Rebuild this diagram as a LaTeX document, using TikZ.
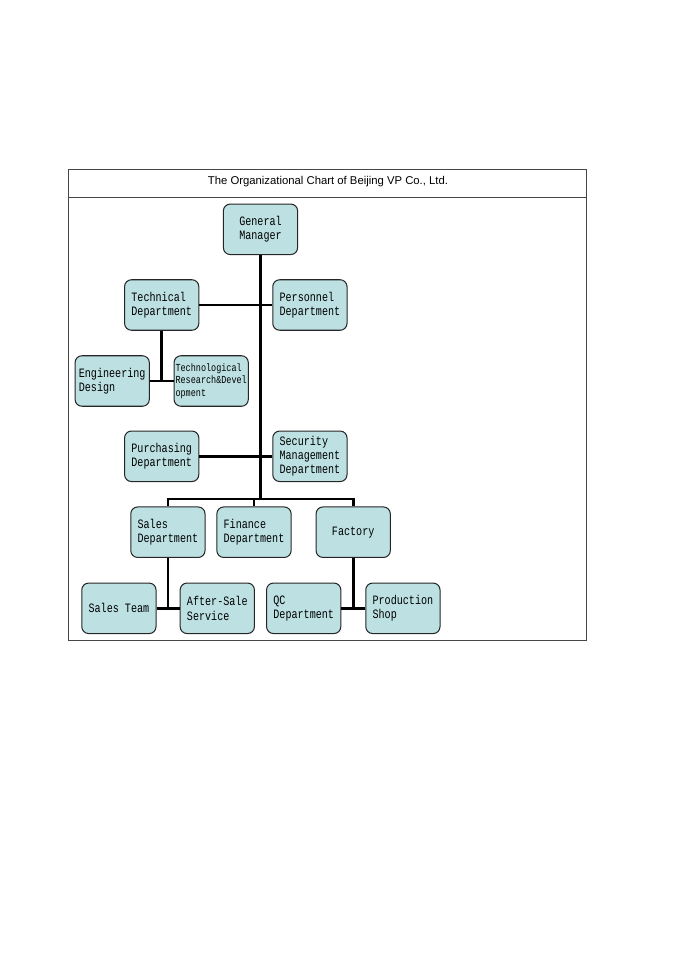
\documentclass[tikz,border=0pt]{standalone}
\usepackage{fontspec}
\setmainfont{Liberation Sans}
\newfontfamily\boxfont[FakeStretch=0.79]{Liberation Mono}
\usepackage{tikz}
\definecolor{myCyan}{RGB}{189,224,226}
\definecolor{myFrame}{RGB}{70,70,70}

\begin{document}
\begin{tikzpicture}[%
	x=0.8754pt, y=-0.8754pt,
	every node/.style={
		font=\boxfont\fontsize{11.2pt}{12.5pt}\selectfont,
		align=left,
		inner sep=1pt,
	},
	dept/.style={
		draw=black!85, line width=0.9pt, fill=myCyan,
		rounded corners=6pt,
		minimum width=65pt, minimum height=44.2pt,
	},
	link/.style={line width=2.3pt, black},
	]
	\useasboundingbox (0,0) rectangle (680,961);
	
	% draw frame and title
	\draw[myFrame, line width=0.8pt] (68.3,169.3) rectangle (586,640);
	\draw[myFrame, line width=0.8pt] (68.3,197.3) -- (586,197.3);
	\node[anchor=base, font=\fontsize{9.9pt}{11pt}\selectfont] (title) at (328,184.5)
		{The Organizational Chart of Beijing VP Co., Ltd.};
	
	% draw boxes
	\node[dept] (gm) at (260.5,229.3) {General\\Manager};
	
	\node[dept] (tech) at (161.7,305) {Technical\\Department};
	\node[dept] (pers) at (309.9,305) {Personnel\\Department};
	
	\node[dept] (eng) at (112.2,381) {Engineering\\Design};
	\node[dept, font=\boxfont\fontsize{9.4pt}{10.8pt}\selectfont] (trd) at (211.2,381)
		{Technological\\Research\&Devel\\opment};
	
	\node[dept] (purch) at (161.7,456.3) {Purchasing\\Department};
	\node[dept] (secu) at (309.9,456.3) {Security\\Management\\Department};
	
	\node[dept] (sales) at (167.9,532.2) {Sales\\Department};
	\node[dept] (fin) at (254,532.2) {Finance\\Department};
	\node[dept] (fact) at (353.2,532.2) {Factory};
	
	\node[dept] (team) at (118.9,608.3) {Sales Team};
	\node[dept] (after) at (217.3,608.3) {After-Sale\\Service};
	\node[dept] (qc) at (303.7,608.3) {QC\\Department};
	\node[dept] (prod) at (402.9,608.3) {Production\\Shop};
	
	% draw connectors
	\coordinate (bus) at (260.5,499);
	\draw[link] (gm.south) -- (bus);
	\draw[link] (tech.east) -- (pers.west);
	\draw[link] (purch.east) -- (secu.west);
	\draw[link] (sales.north) -- (sales.north |- bus) -- (fact.north |- bus) -- (fact.north);
	\draw[link] (fin.north) -- (fin.north |- bus);
	
	\draw[link] (tech.south) -- (tech.south |- eng.east);
	\draw[link] (eng.east) -- (trd.west);
	
	\draw[link] (sales.south) -- (sales.south |- team.east);
	\draw[link] (team.east) -- (after.west);
	\draw[link] (fact.south) -- (fact.south |- qc.east);
	\draw[link] (qc.east) -- (prod.west);
\end{tikzpicture}
\end{document}
